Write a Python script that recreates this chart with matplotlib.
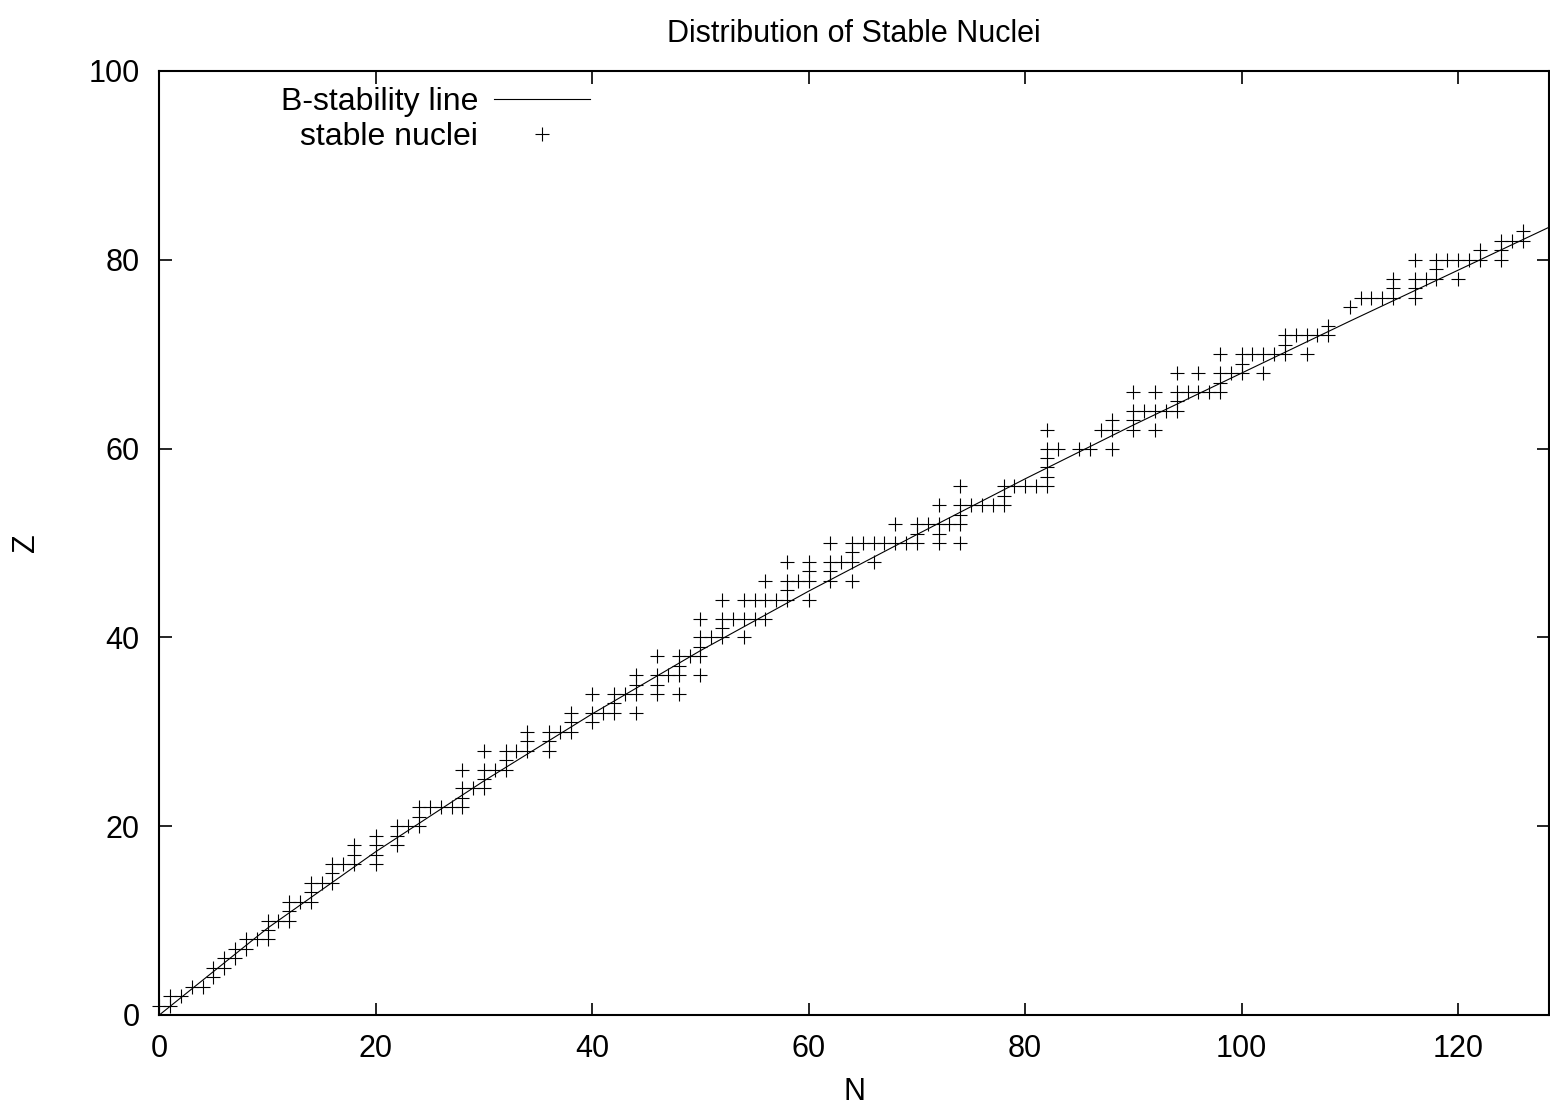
import matplotlib
matplotlib.use('Agg')
import matplotlib.pyplot as plt

# proton number of each element shown, and neutron numbers of its stable isotopes
elements_Z = [1, 2, 3, 4, 5, 6, 7, 8, 9, 10,
              11, 12, 13, 14, 15, 16, 17, 18, 19, 20,
              21, 22, 23, 24, 25, 26, 27, 28, 29, 30,
              31, 32, 33, 34, 35, 36, 37, 38, 39, 40,
              41, 42, 44, 45, 46, 47, 48, 49, 50, 51,
              52, 53, 54, 55, 56, 57, 58, 59, 60, 62,
              63, 64, 65, 66, 67, 68, 69, 70, 71, 72,
              73, 75, 76, 77, 78, 79, 80, 81, 82, 83]
isotopes_N = [
    [0, 1], [1, 2], [3, 4], [5], [5, 6], [6, 7], [7, 8], [8, 9, 10], [10], [10, 11, 12],
    [12], [12, 13, 14], [14], [14, 15, 16], [16], [16, 17, 18, 20], [18, 20], [18, 20, 22], [20, 22], [22, 23, 24],
    [24], [24, 25, 26, 27, 28], [28], [28, 29, 30], [30], [28, 30, 31, 32], [32], [30, 32, 33, 34, 36], [34, 36], [34, 36, 37, 38],
    [38, 40], [38, 40, 41, 42, 44], [42], [40, 42, 43, 44, 46, 48], [44, 46], [44, 46, 47, 48, 50], [48], [46, 48, 49, 50], [50], [50, 51, 52, 54],
    [52], [50, 52, 53, 54, 55, 56], [52, 54, 55, 56, 57, 58, 60], [58], [56, 58, 59, 60, 62, 64], [60, 62], [58, 60, 62, 63, 64, 66], [64],
    [62, 64, 65, 66, 67, 68, 69, 70, 72, 74], [70, 72],
    [68, 70, 71, 72, 73, 74], [74], [72, 74, 75, 76, 77, 78], [78], [74, 78, 79, 80, 81, 82], [82], [82], [82], [82, 83, 85, 86, 88], [82, 87, 88, 90, 92],
    [88, 90], [90, 91, 92, 93, 94], [94], [90, 92, 94, 95, 96, 97, 98], [98], [94, 96, 98, 99, 100, 102], [100], [98, 100, 101, 102, 103, 104, 106], [104], [104, 105, 106, 107, 108],
    [108], [110], [111, 112, 113, 114, 116], [114, 116], [114, 116, 117, 118, 120], [118], [116, 118, 119, 120, 121, 122, 124], [122, 124], [124, 125, 126], [126],
]

# beta-stability line
line_N = [0, 10, 20, 30, 40, 50, 60, 70, 80, 90, 100, 110, 120, 128.5]
line_Z = [0, 9.2, 17.3, 24.8, 31.9, 38.6, 44.9, 50.9, 56.8, 62.5, 68.0, 73.5, 78.9, 83.5]

stable_N = [n for z, ns in zip(elements_Z, isotopes_N) for n in ns]
stable_Z = [z for z, ns in zip(elements_Z, isotopes_N) for n in ns]

plt.rcParams['font.family'] = ['Liberation Sans', 'DejaVu Sans']
fs = 22

fig = plt.figure(figsize=(15.5, 11.11), dpi=100)
ax = fig.add_axes([159.3 / 1550, 1 - 1015 / 1111, (1549 - 159.3) / 1550, (1015 - 71) / 1111])

ax.plot(line_N, line_Z, color='black', lw=0.8, label='B-stability line')
ax.plot(stable_N, stable_Z, linestyle='none', marker='+', ms=9.5, mew=0.8,
        color='black', label='stable nuclei', clip_on=False)

ax.set_xlim(0, 128.4)
ax.set_ylim(0, 100)
ax.set_xticks(range(0, 121, 20))
ax.set_yticks(range(0, 101, 20))
ax.tick_params(direction='in', length=9, width=1.2, top=True, right=True,
               labelsize=fs, pad=14)
for s in ax.spines.values():
    s.set_linewidth(1.5)

ax.set_title('Distribution of Stable Nuclei', fontsize=fs, pad=21)
ax.set_xlabel('N', fontsize=fs, labelpad=9)
ax.set_ylabel('Z', fontsize=fs, labelpad=34)

ax.legend(loc='upper right', bbox_to_anchor=(0.31, 0.983), frameon=False,
          markerfirst=False, fontsize=23, handlelength=3.0, handletextpad=0.5,
          labelspacing=0.15, borderpad=0, borderaxespad=0)

fig.savefig('out.png', dpi=100)
